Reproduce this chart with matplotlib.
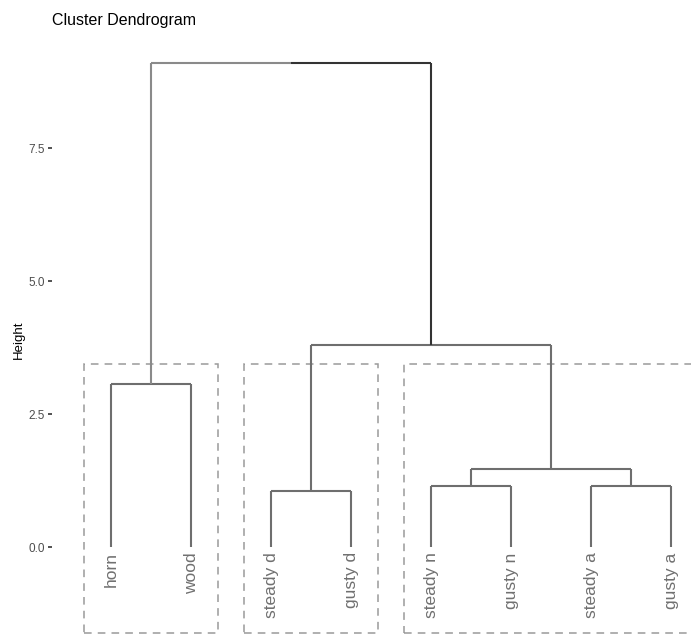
import matplotlib.pyplot as plt
from matplotlib.patches import Rectangle

plt.rcParams['font.family'] = ['Liberation Sans', 'DejaVu Sans']

# leaf labels in dendrogram order
labels = ["horn", "wood", "steady d", "gusty d", "steady n", "gusty n", "steady a", "gusty a"]

# merges, R hclust style: negative = leaf (1-based), positive = earlier merge
merge_left = [-3, -5, -7, 2, -1, 1, 5]
merge_right = [-4, -6, -8, 3, -2, 4, 6]
merge_height = [1.06, 1.14, 1.14, 1.46, 3.07, 3.79, 9.11]

# k = 3 groups (leaf index ranges, 1-based) and box height
groups = [(1, 2), (3, 4), (5, 8)]
box_top = 3.44
box_bottom = -1.62

fig = plt.figure(figsize=(6.91, 6.35), dpi=100)
ax = fig.add_axes([52 / 691, 0, 1 - 52 / 691, 590 / 635])
ax.set_xlim(0.26, 8.25)
ax.set_ylim(-1.654, 9.44)

gray = "#6e6e6e"
light = "#8a8a8a"
dark = "#333333"

# x position and height of every node
pos = {}
def node(i):
    if i < 0:
        return float(-i), 0.0
    return pos[i]

for k in range(len(merge_height)):
    xl, yl = node(merge_left[k])
    xr, yr = node(merge_right[k])
    h = merge_height[k]
    pos[k + 1] = ((xl + xr) / 2, h)
    last = k == len(merge_height) - 1
    cl = light if last else gray
    cr = dark if last else gray
    ax.plot([xl, xl], [yl, h], color=cl, lw=1.5, solid_capstyle="butt")
    ax.plot([xl, (xl + xr) / 2], [h, h], color=cl, lw=1.5, solid_capstyle="butt")
    ax.plot([(xl + xr) / 2, xr], [h, h], color=cr, lw=1.5, solid_capstyle="butt")
    ax.plot([xr, xr], [yr, h], color=cr, lw=1.5, solid_capstyle="butt")

for i, lab in enumerate(labels):
    ax.text(i + 1, -0.1, lab, rotation=90, ha="center", va="top",
            fontsize=12.5, color="#707070")

for a, b in groups:
    ax.add_patch(Rectangle((a - 0.34, box_bottom), b - a + 0.68, box_top - box_bottom,
                           fill=False, ls=(0, (5, 4)), lw=1.1, ec="#9a9a9a"))

for s in ax.spines.values():
    s.set_visible(False)
ax.set_xticks([])
ax.set_yticks([0.0, 2.5, 5.0, 7.5])
ax.set_yticklabels(["0.0", "2.5", "5.0", "7.5"])
ax.tick_params(axis="y", length=3, width=1.2, color="#333333", labelsize=8.5,
               labelcolor="#4d4d4d", pad=2)
ax.set_ylabel("Height", fontsize=9.5, labelpad=3)
fig.text(52 / 691, 1 - 20 / 635, "Cluster Dendrogram", fontsize=11.5, va="center", ha="left")

fig.savefig("out.png", dpi=100)
